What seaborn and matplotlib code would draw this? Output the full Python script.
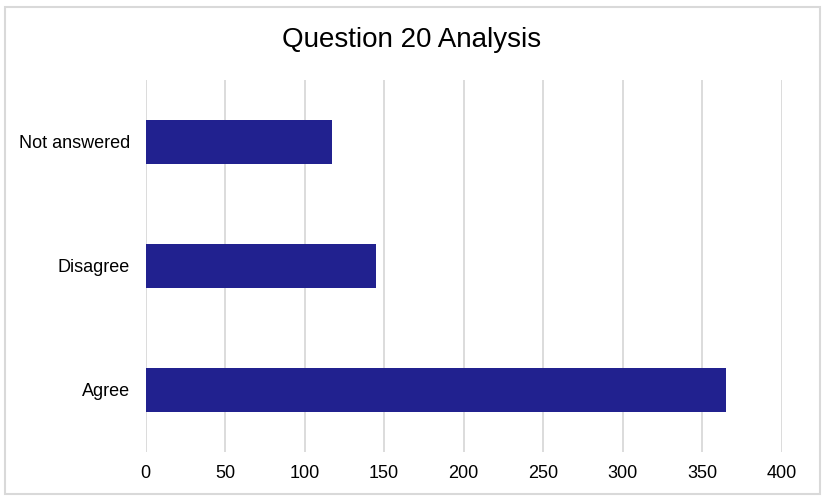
import matplotlib
matplotlib.use("Agg")
import matplotlib.pyplot as plt
from matplotlib.patches import Rectangle
import pandas as pd
import seaborn as sns

# 数据
categories = ["Not answered", "Disagree", "Agree"]
counts = [117, 145, 365]
x_ticks = [0, 50, 100, 150, 200, 250, 300, 350, 400]
title = "Question 20 Analysis"

df = pd.DataFrame({"category": categories, "count": counts})

sns.set_theme(style="white")
plt.rcParams['font.family'] = ['Liberation Sans', 'DejaVu Sans']

fig = plt.figure(figsize=(8.29, 5.01), dpi=100)
ax = fig.add_axes([145.5 / 829, 1 - 452 / 501, (781.7 - 145.5) / 829, (452 - 80) / 501])

sns.barplot(data=df, x="count", y="category", order=categories,
            color="#21218F", saturation=1, width=0.35, linewidth=0,
            ax=ax, zorder=3)

ax.set_xlim(0, 400)
ax.set_ylim(2.5, -0.5)
ax.set_xticks(x_ticks)
ax.grid(axis="x", color="#D9D9D9", linewidth=1.3, zorder=0)
ax.set_axisbelow(True)
for s in ax.spines.values():
    s.set_visible(False)
ax.tick_params(axis="both", length=0, labelsize=13, colors="black")
ax.tick_params(axis="x", pad=9)
ax.tick_params(axis="y", pad=11)
ax.set_xlabel("")
ax.set_ylabel("")

fig.text(412 / 829, 1 - 40 / 501, title, ha="center", va="center", fontsize=20, color="black")

# 外框
fig.patches.append(Rectangle((5 / 829, 1 - 494 / 501), 815 / 829, 487 / 501,
                             transform=fig.transFigure, fill=False,
                             edgecolor="#D9D9D9", linewidth=1.5))

fig.savefig("out.png", dpi=100)
